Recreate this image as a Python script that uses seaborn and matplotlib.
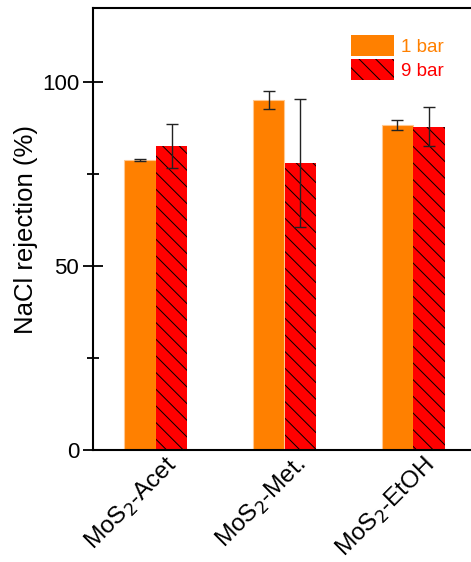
import numpy as np
import pandas as pd
import matplotlib
matplotlib.use("Agg")
import matplotlib.pyplot as plt
import matplotlib.transforms as mtransforms
import seaborn as sns

# ======================
# data
# ======================
samples = ["MoS$_2$-Acet", "MoS$_2$-Met.", "MoS$_2$-EtOH"]
pressures = ["1 bar", "9 bar"]
rej_1bar = [78.8, 95.1, 88.3]
rej_9bar = [82.6, 78.0, 87.8]
err_1bar = [0.3, 2.5, 1.3]
err_9bar = [6.0, 17.4, 5.2]

colors = {"1 bar": "#FF8000", "9 bar": "#FF0000"}

df = pd.DataFrame({
    "sample": samples * 2,
    "pressure": [pressures[0]] * 3 + [pressures[1]] * 3,
    "rejection": rej_1bar + rej_9bar,
})

# ======================
# plot
# ======================
sns.set_style("ticks")
plt.rcParams["font.family"] = ["Liberation Sans", "DejaVu Sans"]
plt.rcParams["hatch.linewidth"] = 0.7
for key in ["text.color", "axes.labelcolor", "xtick.color", "ytick.color",
            "axes.edgecolor"]:
    plt.rcParams[key] = "black"

fig = plt.figure(figsize=(4.71, 5.62), dpi=100)
ax = fig.add_axes([93 / 471, (562 - 450) / 562, (476 - 93) / 471, 442 / 562])

sns.barplot(data=df, x="sample", y="rejection", hue="pressure",
            palette=colors, width=0.49, errorbar=None, ax=ax,
            saturation=1)

# styling of bars + error bars
for cont, errs, name in zip(ax.containers, [err_1bar, err_9bar], pressures):
    xs = []
    ys = []
    for p in cont.patches:
        xs.append(p.get_x() + p.get_width() / 2)
        ys.append(p.get_height())
        if name == "9 bar":
            p.set_hatch("\\\\")
            p.set_edgecolor("black")
            p.set_linewidth(0)
        else:
            p.set_edgecolor("#FFC890")
            p.set_linewidth(0.8)
    ax.errorbar(xs, ys, yerr=errs, fmt="none", ecolor="#222222",
                elinewidth=1.0, capsize=4, capthick=1.0)

ax.set_ylim(0, 120)
ax.set_xlim(-0.49, 2.49)
ax.set_yticks([0, 50, 100])
ax.set_yticks([25, 75], minor=True)
ax.tick_params(axis="y", which="major", direction="inout", length=14,
               width=1.3, labelsize=16, pad=3)
ax.tick_params(axis="y", which="minor", direction="inout", length=8,
               width=1.3)
ax.tick_params(axis="x", length=0, labelsize=17.5, pad=2)
shift = mtransforms.ScaledTranslation(9 / 100, 0, fig.dpi_scale_trans)
for lbl in ax.get_xticklabels():
    lbl.set_rotation(45)
    lbl.set_ha("right")
    lbl.set_rotation_mode("anchor")
    lbl.set_transform(lbl.get_transform() + shift)

for s in ax.spines.values():
    s.set_linewidth(1.5)
    s.set_visible(True)

ax.set_xlabel("")
ax.set_ylabel("NaCl rejection (%)", fontsize=18.5, labelpad=3)

handles, labels = ax.get_legend_handles_labels()
leg = ax.legend(handles, labels, loc="upper left", frameon=False,
                fontsize=13.5, handlelength=2.3, handleheight=1.35,
                handletextpad=0.4, labelspacing=0.15, borderaxespad=0,
                bbox_to_anchor=(0.653, 0.955))
for txt, name in zip(leg.get_texts(), labels):
    txt.set_color(colors[name])
leg.legend_handles[1].set_hatch("\\\\")
leg.legend_handles[1].set_edgecolor("black")
leg.legend_handles[1].set_linewidth(0)
leg.legend_handles[0].set_linewidth(0)

plt.savefig("out.png", dpi=100)
plt.close()
